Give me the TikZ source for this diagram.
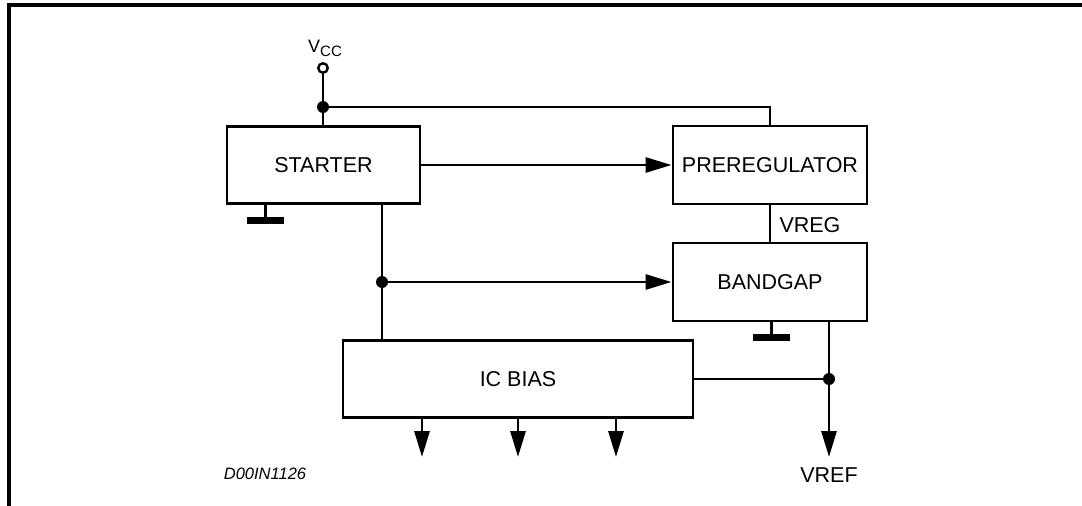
\documentclass[tikz,border=0pt]{standalone}
\usepackage{fontspec}
\setmainfont{Liberation Sans}
\usetikzlibrary{arrows.meta}
\begin{document}
\begin{tikzpicture}[x=1pt,y=-1pt,
  wire/.style={line width=2.9pt},
  arr/.style={wire,-{Triangle[length=26pt,width=15pt]}},
  block/.style={draw,line width=2.9pt,rectangle,inner sep=0pt,font=\fontsize{21.5}{21.5}\selectfont},
  dot/.style={circle,fill,minimum size=12pt,inner sep=0pt},
  gnd/.style={rectangle,fill,minimum width=37pt,minimum height=7pt,inner sep=0pt},
  lbl/.style={inner sep=0pt,font=\fontsize{21.5}{21.5}\selectfont}]
\useasboundingbox (0,0) rectangle (1082,506);
% frame
\coordinate (fa) at (9,506);
\coordinate (fb) at (9,5);
\coordinate (fc) at (1082,5);
\draw[line width=3.6pt] (fa) -- (fb) -- (fc);
% blocks
\node[block,minimum width=193pt,minimum height=77pt] (starter) at (323.5,165) {STARTER};
\node[block,minimum width=194pt,minimum height=78pt] (prereg) at (770,165) {PREREGULATOR};
\node[block,minimum width=194pt,minimum height=78pt] (bandgap) at (770,282) {BANDGAP};
\node[block,minimum width=350pt,minimum height=77pt] (icbias) at (518,379) {IC BIAS};
% Vcc
\node[circle,draw,line width=2.4pt,fill=white,minimum size=9.5pt,inner sep=0pt] (vcc) at (323,68) {};
\node[inner sep=0pt,anchor=base] (vcclbl) at (325,52) {{\fontsize{18}{18}\selectfont V}{\fontsize{15}{15}\selectfont\raisebox{-4.5pt}{CC}}};
\node[dot] (j1) at (323,107) {};
\draw[wire] (vcc.south) -- (vcc.south |- starter.north);
\draw[wire] (j1) -- (j1 -| prereg.north) -- (prereg.north);
% starter -> prereg
\draw[arr] (starter.east) -- (prereg.west);
% VREG
\draw[wire] (prereg.south) -- (bandgap.north);
\node[lbl] (vreg) at (810,225) {VREG};
% grounds
\node[gnd] (g1) at (265.5,220.5) {};
\draw[wire] (g1.north) -- (g1.north |- starter.south);
\node[gnd] (g2) at (771.5,337.5) {};
\draw[wire] (g2.north) -- (g2.north |- bandgap.south);
% starter -> icbias, bandgap
\node[dot] (j2) at (382,282) {};
\draw[wire] (starter.south -| j2) -- (icbias.north -| j2);
\draw[arr] (j2) -- (bandgap.west);
% VREF
\node[dot] (j3) at (829,379) {};
\coordinate (t4) at (829,457);
\draw[wire] (icbias.east) -- (j3);
\draw[arr] (bandgap.south -| j3) -- (t4);
\node[lbl] (vref) at (829,475) {VREF};
% outputs
\coordinate (o1) at (422,457);
\coordinate (o2) at (518,457);
\coordinate (o3) at (616,457);
\draw[arr] (icbias.south -| o1) -- (o1);
\draw[arr] (icbias.south -| o2) -- (o2);
\draw[arr] (icbias.south -| o3) -- (o3);
% code
\node[inner sep=0pt,font=\fontsize{16.5}{16.5}\selectfont\itshape] (code) at (265,474) {D00IN1126};
\end{tikzpicture}
\end{document}
